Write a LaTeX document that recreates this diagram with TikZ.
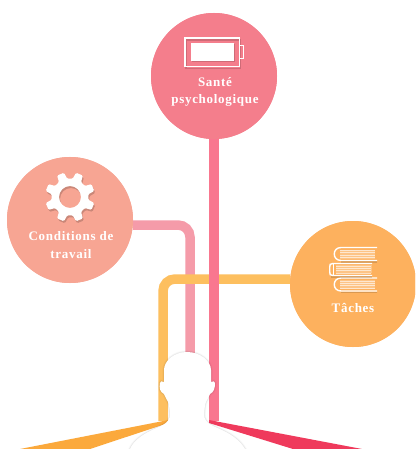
\documentclass[tikz,border=0pt]{standalone}
\usepackage{fontspec}
\setmainfont{Liberation Serif}
\definecolor{cTop}{HTML}{F47E8C}
\definecolor{cLeft}{HTML}{F7A593}
\definecolor{cRight}{HTML}{FDB15E}
\definecolor{lTop}{HTML}{F9778F}
\definecolor{lLeft}{HTML}{F59BA9}
\definecolor{lRight}{HTML}{FDBF5F}
\definecolor{wOrange}{HTML}{FBA93C}
\definecolor{wRed}{HTML}{EF3A5C}
\tikzset{
  x=1pt,y=-1pt,
  bubble/.style={circle,minimum size=126pt,inner sep=0pt,draw=none},
  label/.style={text=white,font=\bfseries\fontsize{13}{15}\selectfont\addfontfeatures{LetterSpace=5.5},anchor=center,inner sep=0pt},
  link/.style={line width=9.5pt,rounded corners=12pt},
  page/.style={draw=white,line width=.8pt,opacity=.6},
  shade/.style={black,opacity=.14}
}
\newcommand{\headpath}{(169,449) -- (130,449) .. controls (133,442) and (140,436) .. (150,431)
  .. controls (160,426) and (170,424) .. (170,414) -- (169,405)
  .. controls (168,400) and (165,398) .. (164,394) .. controls (160,392) and (159,388) .. (160,383)
  .. controls (160,381) and (162,381) .. (164,382) -- (164,370)
  .. controls (164,361) and (174,352) .. (187,352) .. controls (200,352) and (211,361) .. (211,370)
  -- (211,382) .. controls (213,381) and (215,381) .. (215,383) .. controls (215,388) and (214,392) .. (210,394)
  .. controls (209,398) and (206,400) .. (205,405) -- (204,414)
  .. controls (204,424) and (214,426) .. (224,431) .. controls (234,436) and (241,442) .. (245,449) -- cycle}
\newcommand{\bookicon}[2]{%
  \draw[black,opacity=.14,line width=1.3pt] (#1+43,#2+14.5) -- (#1+7,#2+14.5);
  \fill[white,opacity=.25] (#1+6,#2+2) rectangle (#1+41,#2+11);
  \draw[white,line width=1.4pt] (#1+43,#2) -- (#1+7,#2) .. controls (#1-2,#2) and (#1-2,#2+13) .. (#1+7,#2+13) -- (#1+43,#2+13);
  \foreach \k in {3,5.2,7.6,10}{\draw[page] (#1+6,#2+\k) -- (#1+41,#2+\k);}
}
\begin{document}
\begin{tikzpicture}
\useasboundingbox (0,0) rectangle (415,449);
\fill[white] (0,0) rectangle (415,449);
\clip (0,0) rectangle (415,449);
\node[bubble,fill=cTop] (sante) at (214,76) {};
\node[bubble,fill=cLeft] (cond) at (70,220) {};
\node[bubble,fill=cRight] (taches) at (353,284) {};
\coordinate (leftEnd) at (190,400);
\coordinate (pinkEnd) at (214,421);
\coordinate (orangeEnd) at (163,421);
\draw[link,draw=lLeft] (cond.east |- 0,225) -- (190,225) -- (leftEnd);
\draw[link,draw=lRight] (taches.west |- 0,279) -- (163,279) -- (orangeEnd);
\draw[link,draw=lTop] (sante.south) -- (pinkEnd);
\node[bubble,fill=cLeft] at (cond) {};
\node[bubble,fill=cRight] at (taches) {};
\node[bubble,fill=cTop] at (sante) {};
% wedges
\fill[wOrange] (168.5,420) -- (20,449) -- (90,449) -- (168.5,423) -- cycle;
\fill[wRed] (209,420) -- (362,449) -- (293,449) -- (209,423) -- cycle;
% silhouette
\foreach \w/\o in {3.5/.02,2.2/.03,1/.05}{\draw[black,opacity=\o,line width=\w pt] \headpath;}
\fill[white] \headpath;
% battery
\draw[black,opacity=.15,line width=1.4pt] (186,40) rectangle (240.5,68.5);
\draw[white,line width=1.4pt] (185,38) rectangle (239.5,66.5);
\fill[black,opacity=.15] (191.5,44.5) rectangle (234.5,62);
\fill[white] (190.5,43) rectangle (234,61);
\draw[white,line width=1.4pt] (239.5,45.5) -- (243.7,45.5) -- (243.7,58.5) -- (239.5,58.5);
% gear
\foreach \dx/\dy/\col/\op in {1/2/black/.18,0/0/white/1}{
\fill[\col,opacity=\op,even odd rule,rounded corners=1.2pt,shift={(70+\dx,197+\dy)}]
 (8.5:18.5)
 \foreach \a in {22.5,67.5,...,337.5}{
   -- (\a-14:18.5) -- (\a-8.5:25) -- (\a+8.5:25) -- (\a+14:18.5)
 } -- cycle (0,0) circle[radius=11];
}
% books
\bookicon{334}{247.5}
\bookicon{334}{278}
\draw[black,opacity=.14,line width=1.2pt] (331,277) -- (372,277);
\fill[white,opacity=.25] (336,265) rectangle (372,273);
\draw[white,line width=1.4pt] (372,263.5) -- (333,263.5) .. controls (330,263.5) and (329.7,264.5) .. (329.7,267) -- (329.7,272) .. controls (329.7,274.5) and (330,275.5) .. (333,275.5) -- (372,275.5);
\draw[white,line width=1pt] (333.5,263.5) -- (333.5,275.5);
\foreach \k in {266,268.2,270.6,273}{\draw[page] (336,\k) -- (371,\k);}
% labels
\node[label] (t1) at (215,82) {Santé};
\node[label] (t2) at (215,100.5) {psychologique};
\node[label] (t3) at (71,236) {Conditions de};
\node[label] (t4) at (71,254) {travail};
\node[label] (t5) at (353,308) {Tâches};
\end{tikzpicture}
\end{document}
